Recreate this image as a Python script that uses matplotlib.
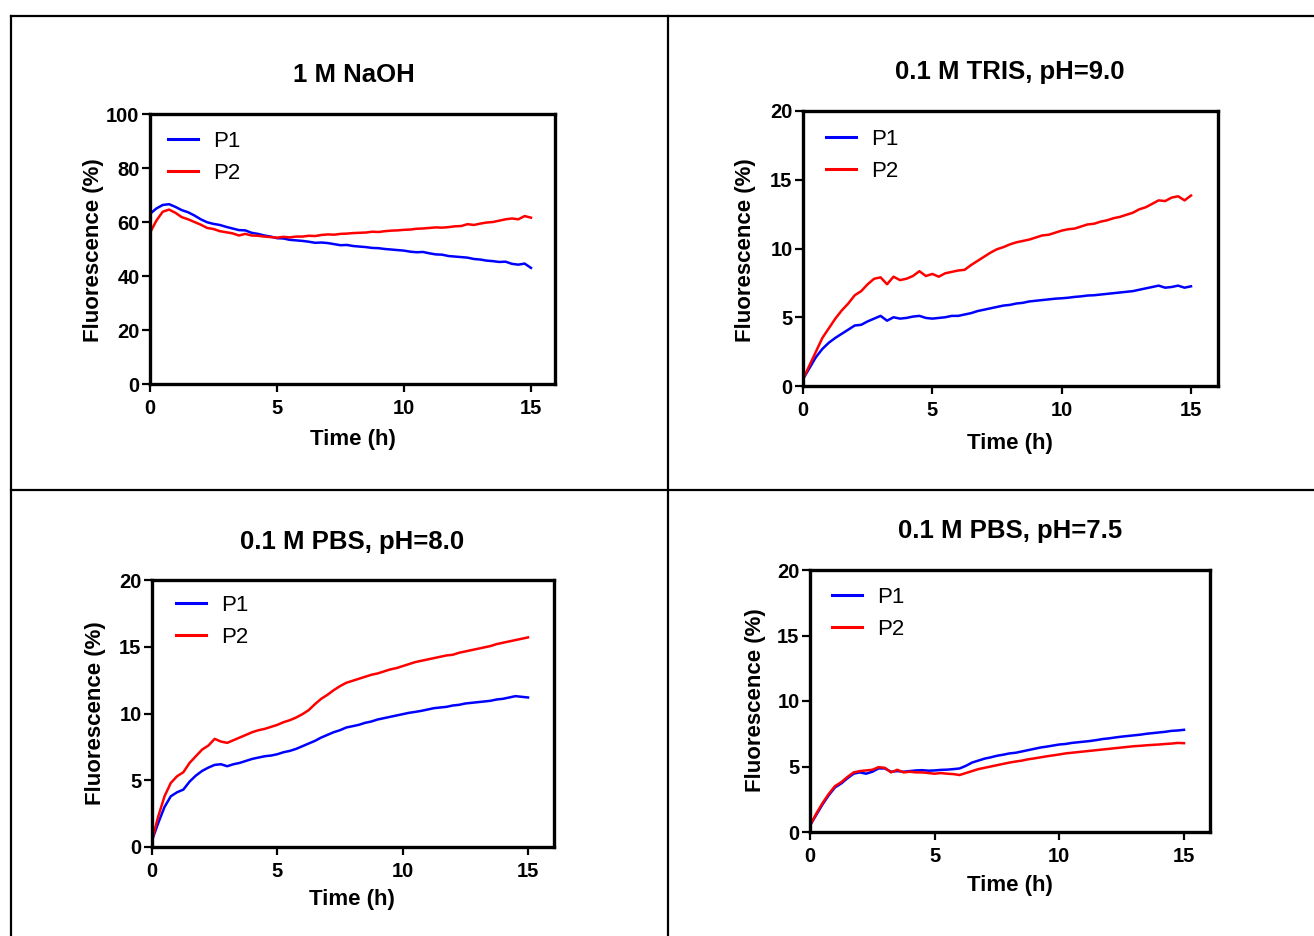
import numpy as np
import matplotlib
matplotlib.use("Agg")
import matplotlib.pyplot as plt
from matplotlib.lines import Line2D

plt.rcParams['font.family'] = ['Liberation Sans', 'DejaVu Sans']

# ---------------- data ----------------
time_h = np.arange(0, 15.001, 0.25)

naoh_p1 = [63.0, 65.0, 66.3, 66.6, 65.6, 64.4, 63.6, 62.4, 61.0, 59.9, 59.3, 58.9, 58.2, 57.6, 57.0, 56.9,
           56.0, 55.6, 55.0, 54.6, 54.0, 53.9, 53.4, 53.2, 53.0, 52.7, 52.3, 52.4, 52.2, 51.8, 51.4, 51.5,
           51.1, 50.9, 50.7, 50.4, 50.3, 50.0, 49.8, 49.6, 49.4, 49.0, 48.8, 48.9, 48.4, 48.0, 47.9, 47.4,
           47.2, 47.0, 46.8, 46.3, 46.1, 45.7, 45.5, 45.2, 45.3, 44.5, 44.2, 44.6, 43.0]
naoh_p2 = [56.0, 60.5, 63.8, 64.6, 63.4, 61.8, 61.0, 60.0, 59.0, 57.8, 57.4, 56.6, 56.2, 55.8, 55.0, 55.6,
           55.0, 54.9, 54.6, 54.4, 54.2, 54.5, 54.3, 54.6, 54.6, 54.9, 54.8, 55.2, 55.4, 55.3, 55.6, 55.7,
           55.9, 56.0, 56.1, 56.4, 56.3, 56.6, 56.8, 56.9, 57.1, 57.2, 57.5, 57.6, 57.8, 58.0, 57.9, 58.1,
           58.4, 58.5, 59.2, 58.9, 59.4, 59.8, 60.0, 60.5, 61.0, 61.3, 61.0, 62.2, 61.6]

tris_p1 = [0.5, 1.3, 2.1, 2.7, 3.15, 3.5, 3.8, 4.1, 4.4, 4.45, 4.7, 4.9, 5.1, 4.75, 5.0, 4.9,
           4.95, 5.05, 5.1, 4.95, 4.9, 4.95, 5.0, 5.1, 5.1, 5.2, 5.3, 5.45, 5.55, 5.65, 5.75, 5.85,
           5.9, 6.0, 6.05, 6.15, 6.2, 6.25, 6.3, 6.35, 6.38, 6.42, 6.48, 6.52, 6.58, 6.6, 6.65, 6.7,
           6.75, 6.8, 6.85, 6.9, 7.0, 7.1, 7.2, 7.3, 7.15, 7.2, 7.3, 7.15, 7.25]
tris_p2 = [0.5, 1.5, 2.5, 3.5, 4.2, 4.9, 5.5, 6.0, 6.6, 6.9, 7.4, 7.8, 7.9, 7.4, 7.95, 7.7,
           7.8, 8.0, 8.35, 8.0, 8.15, 7.95, 8.2, 8.3, 8.4, 8.45, 8.8, 9.1, 9.4, 9.7, 9.95, 10.1,
           10.3, 10.45, 10.55, 10.65, 10.8, 10.95, 11.0, 11.15, 11.3, 11.4, 11.45, 11.6, 11.75, 11.8, 11.95, 12.05,
           12.2, 12.3, 12.45, 12.6, 12.85, 13.0, 13.25, 13.5, 13.45, 13.7, 13.8, 13.5, 13.85]

pbs80_p1 = [0.5, 1.8, 3.0, 3.8, 4.1, 4.3, 4.9, 5.35, 5.7, 5.95, 6.15, 6.2, 6.05, 6.2, 6.3, 6.45,
            6.6, 6.7, 6.8, 6.85, 6.95, 7.1, 7.2, 7.35, 7.55, 7.75, 7.95, 8.2, 8.4, 8.6, 8.75, 8.95,
            9.05, 9.15, 9.3, 9.4, 9.55, 9.65, 9.75, 9.85, 9.95, 10.05, 10.12, 10.2, 10.3, 10.4, 10.45, 10.5,
            10.6, 10.65, 10.75, 10.8, 10.85, 10.9, 10.95, 11.05, 11.1, 11.2, 11.3, 11.25, 11.2]
pbs80_p2 = [0.5, 2.3, 3.8, 4.8, 5.3, 5.6, 6.3, 6.8, 7.3, 7.6, 8.1, 7.9, 7.8, 8.0, 8.2, 8.4,
            8.6, 8.75, 8.85, 9.0, 9.15, 9.35, 9.5, 9.7, 9.95, 10.25, 10.7, 11.1, 11.4, 11.75, 12.05, 12.3,
            12.45, 12.6, 12.75, 12.9, 13.0, 13.15, 13.3, 13.4, 13.55, 13.7, 13.85, 13.95, 14.05, 14.15, 14.25, 14.35,
            14.4, 14.55, 14.65, 14.75, 14.85, 14.95, 15.05, 15.2, 15.3, 15.4, 15.5, 15.6, 15.7]

pbs75_p1 = [0.5, 1.3, 2.1, 2.8, 3.4, 3.7, 4.1, 4.45, 4.55, 4.45, 4.6, 4.85, 4.85, 4.6, 4.65, 4.6,
            4.65, 4.7, 4.72, 4.68, 4.7, 4.74, 4.76, 4.8, 4.85, 5.05, 5.3, 5.45, 5.6, 5.7, 5.82, 5.9,
            6.0, 6.05, 6.15, 6.25, 6.35, 6.45, 6.52, 6.6, 6.68, 6.72, 6.8, 6.85, 6.9, 6.95, 7.02, 7.1,
            7.15, 7.22, 7.28, 7.33, 7.38, 7.43, 7.5, 7.55, 7.6, 7.65, 7.72, 7.75, 7.8]
pbs75_p2 = [0.5, 1.4, 2.2, 2.9, 3.5, 3.8, 4.2, 4.55, 4.65, 4.7, 4.75, 4.95, 4.9, 4.55, 4.75, 4.55,
            4.6, 4.55, 4.55, 4.5, 4.45, 4.5, 4.45, 4.42, 4.35, 4.5, 4.65, 4.8, 4.9, 5.0, 5.1, 5.2,
            5.3, 5.38, 5.45, 5.55, 5.62, 5.7, 5.78, 5.85, 5.92, 6.0, 6.05, 6.1, 6.15, 6.2, 6.25, 6.3,
            6.35, 6.4, 6.45, 6.5, 6.55, 6.58, 6.62, 6.65, 6.68, 6.72, 6.75, 6.8, 6.78]

titles = ["1 M NaOH", "0.1 M TRIS, pH=9.0", "0.1 M PBS, pH=8.0", "0.1 M PBS, pH=7.5"]
series_names = ["P1", "P2"]
y_max = [100, 20, 20, 20]
y_step = [20, 5, 5, 5]
x_ticks = [0, 5, 10, 15]
x_label = "Time (h)"
y_label = "Fluorescence (%)"
panel_data = [(naoh_p1, naoh_p2), (tris_p1, tris_p2), (pbs80_p1, pbs80_p2), (pbs75_p1, pbs75_p2)]

# ---------------- layout (pixel based) ----------------
W, H = 1314, 936
fig = plt.figure(figsize=(W / 100, H / 100), dpi=100)

# (left, right, top, bottom, x_at_15)
boxes = [(150, 555, 114, 384, 531),
         (803, 1218, 111, 386, 1191),
         (152, 554, 580, 847, 528),
         (810, 1210, 570, 832, 1184)]
title_pos = [(354, 75), (1010, 72), (352, 542), (1010, 531)]
xlab_pos = [(353, 439), (1010, 443), (352, 900), (1010, 885)]
ylab_pos = [(93, 250), (745, 250), (95, 713), (755, 700)]
leg_pos = [(168, 131), (826, 129), (176, 595), (832, 587)]

colors = ["#0000ff", "#ff0000"]

def fx(px):
    return px / W

def fy(py):
    return 1 - py / H

for i in range(4):
    l, r, t, b, x15 = boxes[i]
    ax = fig.add_axes([fx(l), fy(b), (r - l) / W, (b - t) / H])
    xmax = 15 * (r - l) / (x15 - l)
    for k in range(2):
        ax.plot(time_h, panel_data[i][k], color=colors[k], lw=1.8, label=series_names[k])
    ax.set_xlim(0, xmax)
    ax.set_ylim(0, y_max[i])
    ax.set_xticks(x_ticks)
    ax.set_yticks(np.arange(0, y_max[i] + 1, y_step[i]))
    for s in ax.spines.values():
        s.set_linewidth(2.4)
    ax.tick_params(direction='out', length=5.5, width=1.6, labelsize=14.5,
                   top=False, right=False)
    ax.tick_params(axis='x', pad=5)
    ax.tick_params(axis='y', pad=2)
    for lab in ax.get_xticklabels() + ax.get_yticklabels():
        lab.set_fontweight('bold')
    ax.set_xlabel(x_label, fontsize=16, fontweight='bold', va='center')
    ax.set_ylabel(y_label, fontsize=16, fontweight='bold', va='center')
    xl = xlab_pos[i]
    yl = ylab_pos[i]
    ax.xaxis.set_label_coords((xl[0] - l) / (r - l), (b - xl[1]) / (b - t))
    ax.yaxis.set_label_coords((yl[0] - l) / (r - l), (b - yl[1]) / (b - t))
    lp = leg_pos[i]
    leg = ax.legend(loc='upper left', bbox_to_anchor=((lp[0] - l) / (r - l), (b - lp[1]) / (b - t)),
                    frameon=False, fontsize=16, handlelength=1.35, handletextpad=0.7,
                    labelspacing=0.5, borderpad=0, borderaxespad=0)
    for h in leg.get_lines():
        h.set_linewidth(2.2)
    tp = title_pos[i]
    fig.text(fx(tp[0]), fy(tp[1]), titles[i], ha='center', va='center',
             fontsize=18.5, fontweight='bold')

# table grid lines
grid_kw = dict(color='black', lw=1.6, transform=fig.transFigure)
fig.add_artist(Line2D([fx(11), 1], [fy(16), fy(16)], **grid_kw))
fig.add_artist(Line2D([fx(11), 1], [fy(490), fy(490)], **grid_kw))
fig.add_artist(Line2D([fx(11), fx(11)], [fy(16), 0], **grid_kw))
fig.add_artist(Line2D([fx(668), fx(668)], [fy(16), 0], **grid_kw))

fig.savefig("out.png", dpi=100)
